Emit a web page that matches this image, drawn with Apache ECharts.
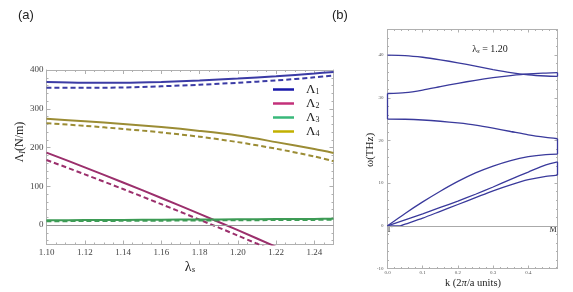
<!DOCTYPE html>
<html><head><meta charset="utf-8">
<script src="https://cdn.jsdelivr.net/npm/echarts@6/dist/echarts.min.js"></script>
<style>html,body{margin:0;padding:0;background:#fff}#c{width:573px;height:292px}</style>
</head><body><div id="c"></div>
<script>
// ---------- Panel (a) data ----------
const lamS   = [1.10, 1.12, 1.14, 1.16, 1.18, 1.20, 1.22, 1.24, 1.25];
const L1     = [369, 367, 367, 369, 373, 378, 384, 391, 395];
const L1d    = [354, 354, 355, 358, 362, 367, 373, 381, 386];
const L2     = [187, 149, 110, 70, 29, -13, -56, -98, -120];
const L2d    = [168, 131, 93, 54, 14, -27, -69, -111, -132];
const L3     = [12.5, 13, 13.5, 14, 14.5, 15, 15.5, 16, 16.2];
const L3d    = [10, 10.5, 11, 11.5, 12, 12.5, 13, 13.5, 13.7];
const L4     = [274, 268, 261, 253, 243, 231, 214, 196, 186];
const L4d    = [263, 256, 248, 239, 228, 214, 197, 177, 165];
const aXTicks = [1.10, 1.12, 1.14, 1.16, 1.18, 1.20, 1.22, 1.24];
const aYTicks = [0, 100, 200, 300, 400];
const aNames  = ['Λ1', 'Λ2', 'Λ3', 'Λ4'];

// ---------- Panel (b) data ----------
const kGrid = [0, 0.05, 0.1, 0.15, 0.2, 0.25, 0.3, 0.35, 0.4, 0.45, 0.483];
const bandA = [40, 39.9, 39.5, 38.9, 38.2, 37.4, 36.6, 35.9, 35.4, 35.1, 35.0];
const bandB = [31.0, 31.2, 31.8, 32.6, 33.4, 34.1, 34.7, 35.2, 35.6, 35.8, 35.9];
const bandC = [25.0, 24.97, 24.8, 24.5, 24.1, 23.6, 22.9, 22.1, 21.3, 20.7, 20.4];
const ac1   = [0, 2.9, 5.6, 8.1, 10.4, 12.4, 14.0, 15.3, 16.2, 16.7, 16.8];
const ac2   = [0, 1.4, 2.8, 4.3, 5.8, 7.4, 9.1, 10.9, 12.6, 14.3, 15.0];
const kAc3  = [0, 0.036, 0.05, 0.1, 0.15, 0.2, 0.25, 0.3, 0.35, 0.4, 0.45, 0.483];
const ac3   = [0, 0, 0.4, 1.8, 3.4, 5.0, 6.6, 8.2, 9.6, 10.8, 11.6, 11.9];
const bXTicks = [0, 0.1, 0.2, 0.3, 0.4];
const bYTicks = [-10, 0, 10, 20, 30, 40];

// ---------- helpers ----------
const r4 = v => Math.round(v * 10000) / 10000;
function minorTicks(major, sub, lo, hi) {
  const step = (major[1] - major[0]) / sub;
  const out = [];
  for (let v = major[0] - 10 * sub * step; v <= hi + 1e-9; v += step) {
    const rv = r4(v);
    if (rv < lo - 1e-9) continue;
    if (major.some(m => Math.abs(m - rv) < 1e-7)) continue;
    out.push(rv);
  }
  return out;
}
const pairs = (xs, ys) => xs.map((x, i) => [x, ys[i]]);
const FRAME = '#b0b0b0';
const SERIF = 'Liberation Serif, Times New Roman, serif';

function axisSet(dim, grid, min, max, major, minor, majLen, minLen, label) {
  const posA = dim === 'x' ? 'bottom' : 'left';
  const posB = dim === 'x' ? 'top' : 'right';
  const base = (pos, ticks, len, showLine, lab) => ({
    type: 'value', gridIndex: grid, position: pos, min: min, max: max,
    axisLine: { show: showLine, onZero: false, lineStyle: { color: FRAME, width: 1 } },
    axisTick: { show: true, inside: true, length: len, customValues: ticks, lineStyle: { color: FRAME, width: 1 } },
    axisLabel: lab ? Object.assign({ customValues: major }, lab) : { show: false },
    splitLine: { show: false }
  });
  return [
    base(posA, major, majLen, true, label),
    base(posA, minor, minLen, false, null),
    base(posB, major, majLen, true, null),
    base(posB, minor, minLen, false, null)
  ];
}

const aXMinor = minorTicks(aXTicks, 4, 1.10, 1.25);
const aYMinor = minorTicks(aYTicks, 5, -50, 400);
const bXMinor = minorTicks(bXTicks, 5, 0, 0.483);
const bYMinor = minorTicks(bYTicks, 5, -10, 46);

const xAxes = [].concat(
  axisSet('x', 0, 1.10, 1.25, aXTicks, aXMinor, 4, 2,
    { formatter: v => v.toFixed(2), fontFamily: SERIF, fontSize: 9, color: '#444', margin: 4 }),
  axisSet('x', 1, 0, 0.483, bXTicks, bXMinor, 3, 1.5,
    { formatter: v => v.toFixed(1), fontFamily: SERIF, fontSize: 5, color: '#555', margin: 2 })
);
const yAxes = [].concat(
  axisSet('y', 0, -50, 400, aYTicks, aYMinor, 4, 2,
    { formatter: v => String(v), fontFamily: SERIF, fontSize: 9, color: '#444', margin: 3 }),
  axisSet('y', 1, -10, 46, bYTicks, bYMinor, 3, 1.5,
    { formatter: v => String(v), fontFamily: SERIF, fontSize: 5, color: '#555', margin: 4 })
);

const lineCols = ['#3b3ba5', '#9b2f6c', '#3d9b55', '#9b8c34'];
const legCols  = ['#1818aa', '#c3307a', '#38b87a', '#c2b000'];
const aSolid = [L1, L2, L3, L4];
const aDash  = [L1d, L2d, L3d, L4d];

const series = [];
aSolid.forEach((ys, i) => {
  series.push({
    name: aNames[i], type: 'line', xAxisIndex: 0, yAxisIndex: 0,
    data: pairs(lamS, ys), smooth: 0.3, showSymbol: false, symbol: 'none',
    lineStyle: { color: lineCols[i], width: 2 }, itemStyle: { color: lineCols[i] }, z: 3
  });
  series.push({
    name: aNames[i] + ' dashed', type: 'line', xAxisIndex: 0, yAxisIndex: 0,
    data: pairs(lamS, aDash[i]), smooth: 0.3, showSymbol: false, symbol: 'none',
    lineStyle: { color: lineCols[i], width: 2, type: [5, 3] }, itemStyle: { color: lineCols[i] }, z: 3
  });
});
// zero line panel (a)
series[0].markLine = {
  silent: true, symbol: 'none', label: { show: false }, animation: false,
  lineStyle: { color: '#999', type: 'solid', width: 1 }, data: [{ yAxis: 0 }]
};

// panel (b)
const BCOL = '#3a3a9c';
const bBands = [[kGrid, bandA], [kGrid, bandB], [kGrid, bandC], [kGrid, ac1], [kGrid, ac2], [kAc3, ac3]];
bBands.forEach((b, i) => {
  series.push({
    name: 'band' + i, type: 'line', xAxisIndex: 4, yAxisIndex: 4,
    data: pairs(b[0], b[1]), smooth: 0.25, showSymbol: false, symbol: 'none',
    lineStyle: { color: BCOL, width: 1.3 }, z: 3
  });
});
const kEnd = kGrid[kGrid.length - 1];
const last = a => a[a.length - 1];
const connectors = [
  [[0, bandB[0]], [0, bandC[0]]],
  [[kEnd, last(bandA)], [kEnd, last(bandB)]],
  [[kEnd, last(bandC)], [kEnd, last(ac1)]],
  [[kEnd, last(ac2)], [kEnd, last(ac3)]]
];
connectors.forEach((c, i) => {
  series.push({
    name: 'conn' + i, type: 'line', xAxisIndex: 4, yAxisIndex: 4,
    data: c, showSymbol: false, symbol: 'none', clip: false,
    lineStyle: { color: BCOL, width: 1.3 }, z: 10
  });
});
series[series.length - 1].markLine = {
  silent: true, symbol: 'none', label: { show: false }, animation: false,
  lineStyle: { color: '#aaa', type: 'solid', width: 1 }, data: [{ yAxis: 0 }]
};

const chart = echarts.init(document.getElementById('c'), null, { renderer: 'canvas' });
chart.setOption({
  animation: false,
  backgroundColor: '#fff',
  grid: [
    { left: 46.5, top: 70, width: 287, height: 174.5, show: false },
    { left: 387.5, top: 29.5, width: 170, height: 239, show: false }
  ],
  xAxis: xAxes,
  yAxis: yAxes,
  legend: {
    orient: 'vertical', left: 273, top: 83, padding: 0, itemWidth: 21, itemHeight: 2.5, itemGap: 1,
    icon: 'rect', selectedMode: false,
    data: aNames.map((n, i) => ({ name: n, itemStyle: { color: legCols[i] } })),
    formatter: n => '{a|Λ}{s|' + n.slice(1) + '}',
    textStyle: {
      rich: {
        a: { fontFamily: SERIF, fontSize: 13, color: '#222', lineHeight: 13, padding: [0, 0, 0, 7] },
        s: { fontFamily: SERIF, fontSize: 8, color: '#222', lineHeight: 8, verticalAlign: 'bottom' }
      }
    }
  },
  graphic: [
    { type: 'text', left: 18, top: 9, style: { text: '(a)', font: '13px Liberation Sans, Arial, sans-serif', fill: '#222' } },
    { type: 'text', left: 332, top: 9, style: { text: '(b)', font: '13px Liberation Sans, Arial, sans-serif', fill: '#222' } },
    { type: 'text', x: 20, y: 142, rotation: Math.PI / 2,
      style: { text: '{a|Λ}{i|I}{a|(N/m)}', align: 'center', verticalAlign: 'middle',
        rich: { a: { fontFamily: SERIF, fontSize: 12, lineHeight: 14, fill: '#222' },
                i: { fontFamily: SERIF, fontStyle: 'italic', fontSize: 8, lineHeight: 8, verticalAlign: 'bottom', fill: '#222' } } } },
    { type: 'text', x: 190, y: 267,
      style: { text: '{a|λ}{i|s}', align: 'center', verticalAlign: 'middle',
        rich: { a: { fontFamily: SERIF, fontSize: 14, lineHeight: 15, fill: '#222' },
                i: { fontFamily: SERIF, fontStyle: 'italic', fontSize: 9, lineHeight: 9, verticalAlign: 'bottom', fill: '#222' } } } },
    { type: 'text', x: 370, y: 150, rotation: Math.PI / 2,
      style: { text: 'ω(THz)', align: 'center', verticalAlign: 'middle', font: '11px ' + SERIF, fill: '#222' } },
    { type: 'text', x: 473, y: 283,
      style: { text: '{a|k (2}{i|π}{a|/a units)}', align: 'center', verticalAlign: 'middle',
        rich: { a: { fontFamily: SERIF, fontSize: 10.5, fill: '#222' },
                i: { fontFamily: SERIF, fontStyle: 'italic', fontSize: 10.5, fill: '#222' } } } },
    { type: 'text', x: 490, y: 49,
      style: { text: '{a|λ}{s|s}{a| = 1.20}', align: 'center', verticalAlign: 'middle',
        rich: { a: { fontFamily: SERIF, fontSize: 10, lineHeight: 11, fill: '#222' },
                s: { fontFamily: SERIF, fontStyle: 'italic', fontSize: 7, lineHeight: 7, verticalAlign: 'bottom', fill: '#222' } } } },
    { type: 'text', x: 390, y: 230, style: { text: 'Γ', align: 'center', verticalAlign: 'middle', font: '8px ' + SERIF, fill: '#222' } },
    { type: 'text', x: 553, y: 230, style: { text: 'M', align: 'center', verticalAlign: 'middle', font: '8px ' + SERIF, fill: '#222' } }
  ],
  series: series
});
</script>
</body></html>
